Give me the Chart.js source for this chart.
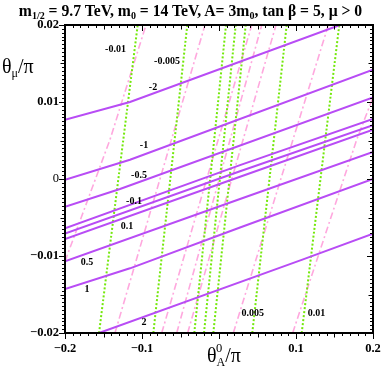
<!DOCTYPE html>
<html>
<head>
<meta charset="utf-8">
<script src="https://cdn.jsdelivr.net/npm/chart.js@4/dist/chart.umd.min.js"></script>
<style>
  html, body { margin: 0; padding: 0; background: #fff; }
  #wrap { position: relative; width: 381px; height: 377px; overflow: hidden; }
  canvas { position: absolute; left: 0; top: 0; }
  .t { position: absolute; font-family: "Liberation Serif", "Times New Roman", serif; color: #000; white-space: nowrap; line-height: 1; }
  #title { left: 0; width: 381px; top: 3px; text-align: center; font-weight: bold; font-size: 15.7px; }
  #title sub { font-size: 10px; vertical-align: -3px; line-height: 0; }
  #ytitle { left: 2px; top: 56px; font-size: 20px; }
  #xtitle { left: 207px; top: 345px; font-size: 20px; }
  .ax sub { font-size: 12px; vertical-align: -4px; line-height: 0; }
</style>
</head>
<body>
<div id="wrap">
  <canvas id="c" width="381" height="377" style="width:381px;height:377px"></canvas>
  <div id="title" class="t">m<sub>1/2</sub> = 9.7 TeV, m<sub>0</sub> = 14 TeV, A= 3m<sub>0</sub>, tan β = 5, μ &gt; 0</div>
  <div id="ytitle" class="t ax">θ<sub>μ</sub>/π</div>
  <div id="xtitle" class="t ax">θ<sub>A</sub>/π</div>
</div>
<script>
// ---- axis ticks ----
const xTickVals = [-0.2, -0.1, 0, 0.1, 0.2];
const xTickLabels = ['\u22120.2', '\u22120.1', '0', '0.1', '0.2'];
const yTickVals = [-0.02, -0.01, 0, 0.01, 0.02];
const yTickLabels = ['\u22120.02', '\u22120.01', '0', '0.01', '0.02'];

// ---- solid contours (theta_A/pi, theta_mu/pi) ----
const contourM2   = [[-0.2, 0.0077], [-0.1156, 0.0100], [0.1571, 0.02]];
const contourM1   = [[-0.2, -0.0001], [-0.1156, 0.0025], [0.2, 0.0142]];
const contourM05  = [[-0.2, -0.0036], [-0.1286, -0.0013], [0.2, 0.0106]];
const contourM01  = [[-0.2, -0.0064], [0.0273, 0.0018], [0.2, 0.0078]];
const contour0    = [[-0.2, -0.0071], [0.0273, 0.0010], [0.2, 0.0070]];
const contourP01  = [[-0.2, -0.0078], [0.0273, 0.0003], [0.2, 0.0064]];
const contourP05  = [[-0.2, -0.0107], [0.0273, -0.0026], [0.2, 0.0035]];
const contourP1   = [[-0.2, -0.0143], [-0.1156, -0.0116], [0.0273, -0.0063], [0.2, 0.0000]];
const contourP2   = [[-0.1558, -0.02], [0.1074, -0.0105], [0.2, -0.0071]];
const solidContours = [contourM2, contourM1, contourM05, contourM01, contour0, contourP01, contourP05, contourP1, contourP2];

// ---- dotted contours ----
const dotted1 = [[-0.1558, -0.02], [-0.1056, 0.02]];
const dotted2 = [[-0.0853, -0.02], [-0.0412, 0.02]];
const dotted3 = [[-0.0321, -0.02], [0.0091, 0.02]];
const dotted4 = [[-0.0195, -0.02], [0.0217, 0.02]];
const dotted5 = [[-0.0074, -0.02], [0.0347, 0.02]];
const dotted6 = [[0.0432, -0.02], [0.0879, 0.02]];
const dotted7 = [[0.1074, -0.02], [0.1562, 0.02]];
const dottedContours = [dotted1, dotted2, dotted3, dotted4, dotted5, dotted6, dotted7];

// ---- dash-dot contours ----
const dashdot1 = [[-0.2, -0.0107], [-0.1416, 0.0051], [-0.0948, 0.02]];
const dashdot2 = [[-0.1351, -0.02], [-0.0182, 0.02]];
const dashdot3 = [[-0.0744, -0.02], [0.0425, 0.02]];
const dashdot4 = [[-0.0549, -0.02], [0.0555, 0.02]];
const dashdot5 = [[-0.0407, -0.02], [0.0740, 0.02]];
const dashdot6 = [[0.0186, -0.02], [0.1420, 0.02]];
const dashdot7 = [[0.0957, -0.02], [0.1788, 0.0051], [0.2, 0.0106]];
const dashdotContours = [dashdot1, dashdot2, dashdot3, dashdot4, dashdot5, dashdot6, dashdot7];

// ---- contour labels ----
const contourLabelTexts = ['-0.01', '-0.005', '-2', '-1', '-0.5', '-0.1', '0.1', '0.5', '1', '2', '0.005', '0.01'];
const contourLabelAt = [[-0.1344, 0.0168], [-0.0675, 0.0153], [-0.0857, 0.0119], [-0.0974, 0.0043],
                        [-0.1039, 0.0005], [-0.1104, -0.0029], [-0.1195, -0.0061], [-0.1714, -0.0108],
                        [-0.1714, -0.0143], [-0.0974, -0.0186], [0.0438, -0.0174], [0.1266, -0.0174]];

const PURPLE = '#b84cf5', GREEN = '#74e80c', PINK = '#ffa8de';
const toPts = arr => arr.map(p => ({x: p[0], y: p[1]}));
const datasets = [];
dashdotContours.forEach(c => datasets.push({data: toPts(c), borderColor: PINK, borderWidth: 1.6, borderDash: [7, 3, 2, 3], pointRadius: 0, order: 3, clip: 0}));
dottedContours.forEach(c => datasets.push({data: toPts(c), borderColor: GREEN, borderWidth: 2, borderDash: [2, 2], pointRadius: 0, order: 2, clip: 0}));
solidContours.forEach(c => datasets.push({data: toPts(c), borderColor: PURPLE, borderWidth: 2, pointRadius: 0, order: 1, clip: 0}));

const SERIF = '"Liberation Serif", "Times New Roman", serif';

const framePlugin = {
  id: 'frame',
  afterDatasetsDraw(chart) {
    const {ctx, chartArea: a, scales: {x, y}} = chart;
    ctx.save();
    // contour labels
    ctx.fillStyle = '#000';
    ctx.font = 'bold 10px ' + SERIF;
    ctx.textAlign = 'center';
    ctx.textBaseline = 'middle';
    contourLabelTexts.forEach((t, i) => {
      ctx.fillText(t, x.getPixelForValue(contourLabelAt[i][0]), y.getPixelForValue(contourLabelAt[i][1]));
    });
    // frame
    ctx.strokeStyle = '#000';
    ctx.lineWidth = 2;
    ctx.strokeRect(a.left, a.top, a.right - a.left, a.bottom - a.top);
    ctx.lineWidth = 1;
    ctx.beginPath();
    for (let i = -20; i <= 20; i++) {
      const v = i / 100;
      const px = Math.round(x.getPixelForValue(v)) + 0.5;
      const len = (i % 10 === 0) ? 6 : (i % 5 === 0 ? 4.5 : 3);
      ctx.moveTo(px, a.bottom); ctx.lineTo(px, a.bottom + len);
      ctx.moveTo(px, a.top); ctx.lineTo(px, a.top + len);
    }
    for (let i = -40; i <= 40; i++) {
      const v = i / 2000;
      const py = Math.round(y.getPixelForValue(v)) + 0.5;
      const len = (i % 20 === 0) ? 6 : (i % 10 === 0 ? 4.5 : 3);
      ctx.moveTo(a.left, py); ctx.lineTo(a.left - len, py);
      ctx.moveTo(a.right, py); ctx.lineTo(a.right - len, py);
    }
    ctx.stroke();
    ctx.restore();
  }
};

const tickFont = ctx => {
  const v = ctx.tick ? ctx.tick.value : 1;
  return {family: SERIF, size: 12.5, weight: Math.abs(v) < 1e-12 ? 'normal' : 'bold'};
};

new Chart(document.getElementById('c'), {
  type: 'line',
  data: {datasets},
  options: {
    responsive: false,
    animation: false,
    devicePixelRatio: 1,
    layout: {padding: {top: 25, right: 8, left: 0, bottom: 0}},
    plugins: {legend: {display: false}, tooltip: {enabled: false}, title: {display: false}},
    elements: {line: {tension: 0}},
    scales: {
      x: {
        type: 'linear', min: -0.2, max: 0.2,
        grid: {display: false, drawTicks: false}, border: {display: false},
        afterBuildTicks: s => { s.ticks = xTickVals.map(v => ({value: v})); },
        afterFit: s => { s.height = 44; s.paddingLeft = 0; s.paddingRight = 0; },
        ticks: {autoSkip: false, maxRotation: 0, padding: 8, color: '#000', font: tickFont,
                callback: (v, i) => xTickLabels[i]}
      },
      y: {
        type: 'linear', min: -0.02, max: 0.02,
        grid: {display: false, drawTicks: false}, border: {display: false},
        afterBuildTicks: s => { s.ticks = yTickVals.map(v => ({value: v})); },
        afterFit: s => { s.width = 65; s.paddingTop = 0; s.paddingBottom = 0; },
        ticks: {autoSkip: false, padding: 6, color: '#000', font: tickFont,
                callback: (v, i) => yTickLabels[i]}
      }
    }
  },
  plugins: [framePlugin]
});
</script>
</body>
</html>
